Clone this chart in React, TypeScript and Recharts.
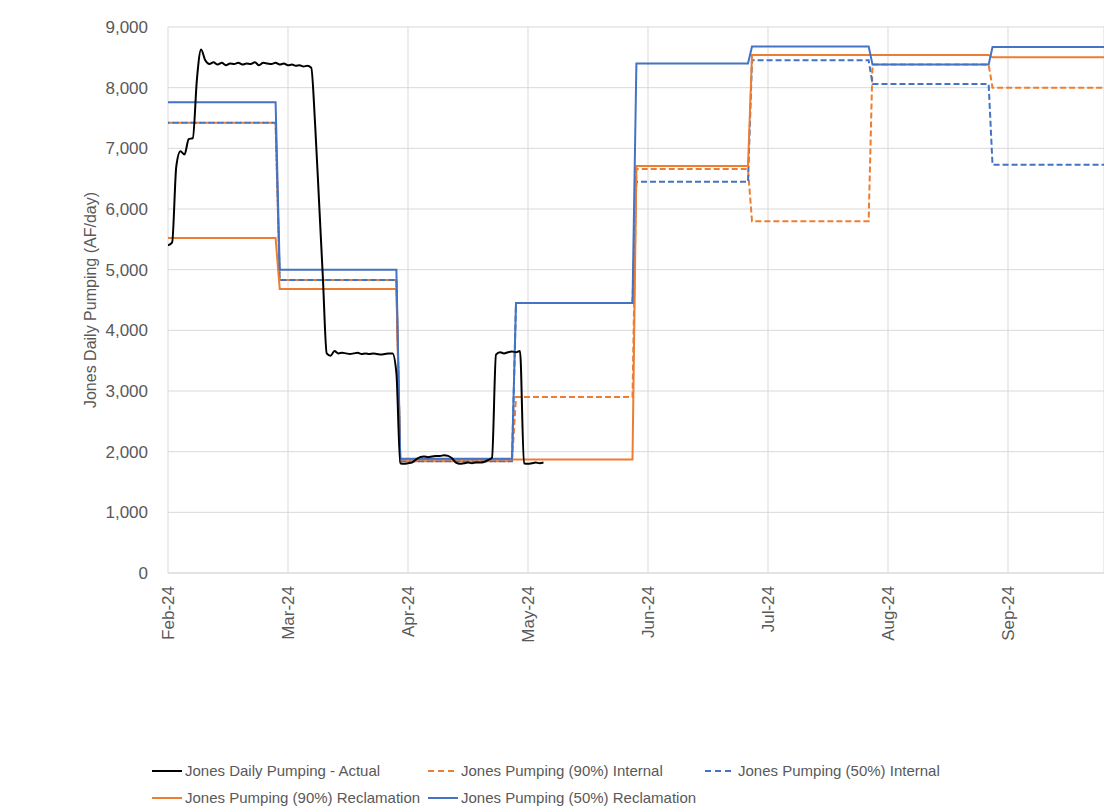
import * as React from 'react'
import { LineChart, Line, XAxis, YAxis, CartesianGrid } from 'recharts'

const MONTH_LABELS = ['Feb-24', 'Mar-24', 'Apr-24', 'May-24', 'Jun-24', 'Jul-24', 'Aug-24', 'Sep-24']
const DAYS_IN_MONTH = [29, 31, 30, 31, 30, 31, 31, 30]
const Y_TICKS = [0, 1000, 2000, 3000, 4000, 5000, 6000, 7000, 8000, 9000]

// daily actual pumping, AF/day
const actualFeb = [
  5400, 5450, 6700, 6950, 6900, 7150, 7170, 8150, 8630, 8450, 8390, 8420, 8380, 8410, 8370,
  8400, 8390, 8410, 8380, 8400, 8390, 8420, 8370, 8410, 8400, 8390, 8410, 8380, 8400,
]
const actualMar = [
  8370, 8380, 8360, 8370, 8350, 8360, 8330, 7400, 6150, 4880, 3620, 3580, 3660, 3620, 3630, 3620,
  3610, 3620, 3630, 3610, 3620, 3610, 3620, 3610, 3600, 3610, 3620, 3620, 3300, 1810, 1800,
]
const actualApr = [
  1810, 1820, 1870, 1910, 1920, 1910, 1920, 1930, 1930, 1940, 1930, 1890, 1820, 1800, 1810,
  1820, 1810, 1820, 1820, 1830, 1860, 1900, 3600, 3640, 3620, 3640, 3650, 3640, 3660, 1810,
]
const actualMay = [1800, 1810, 1820, 1810, 1820]

// projections: [date, AF/day] at each end of a step
const internal90: [string, number][] = [
  ['2024-02-01', 7420], ['2024-02-27', 7420], ['2024-02-28', 4830], ['2024-03-29', 4830],
  ['2024-03-30', 1840], ['2024-04-27', 1840], ['2024-04-28', 2900], ['2024-05-28', 2900],
  ['2024-05-29', 6660], ['2024-06-26', 6660], ['2024-06-27', 5800], ['2024-07-27', 5800],
  ['2024-07-28', 8380], ['2024-08-27', 8380], ['2024-08-28', 8000], ['2024-09-30', 8000],
]
const internal50: [string, number][] = [
  ['2024-02-01', 7420], ['2024-02-27', 7420], ['2024-02-28', 4830], ['2024-03-29', 4830],
  ['2024-03-30', 1840], ['2024-04-27', 1840], ['2024-04-28', 4450], ['2024-05-28', 4450],
  ['2024-05-29', 6450], ['2024-06-26', 6450], ['2024-06-27', 8450], ['2024-07-27', 8450],
  ['2024-07-28', 8060], ['2024-08-27', 8060], ['2024-08-28', 6730], ['2024-09-30', 6730],
]
const reclamation90: [string, number][] = [
  ['2024-02-01', 5520], ['2024-02-27', 5520], ['2024-02-28', 4680], ['2024-03-29', 4680],
  ['2024-03-30', 1870], ['2024-05-28', 1870], ['2024-05-29', 6710], ['2024-06-26', 6710],
  ['2024-06-27', 8540], ['2024-08-27', 8540], ['2024-08-28', 8500], ['2024-09-30', 8500],
]
const reclamation50: [string, number][] = [
  ['2024-02-01', 7760], ['2024-02-27', 7760], ['2024-02-28', 5000], ['2024-03-29', 5000],
  ['2024-03-30', 1885], ['2024-04-27', 1885], ['2024-04-28', 4450], ['2024-05-28', 4450],
  ['2024-05-29', 8400], ['2024-06-26', 8400], ['2024-06-27', 8680], ['2024-07-27', 8680],
  ['2024-07-28', 8380], ['2024-08-27', 8380], ['2024-08-28', 8670], ['2024-09-30', 8670],
]

const BLUE = '#4472C4'
const ORANGE = '#ED7D31'
const FONT = '"Liberation Sans", Arial, sans-serif'
const TEXT = '#595959'

// months since Feb 1, each month the same width on the axis
function toX(m: number, d: number) {
  return m + (d - 1) / DAYS_IN_MONTH[m]
}
function dateX(s: string) {
  const [, mm, dd] = s.split('-').map(Number)
  return toX(mm - 2, dd)
}

const actualData = [actualFeb, actualMar, actualApr, actualMay].flatMap((vals, m) =>
  vals.map((y, i) => ({ x: toX(m, i + 1), y })),
)
const steps = (pts: [string, number][]) => pts.map(([d, y]) => ({ x: dateX(d), y }))

function MonthTick({ x, y, payload }: any) {
  return (
    <text
      x={x}
      y={y + 5}
      transform={`rotate(-90 ${x} ${y + 5})`}
      textAnchor="end"
      dominantBaseline="central"
      fill={TEXT}
      fontSize={17}
      fontFamily={FONT}
    >
      {MONTH_LABELS[payload.value]}
    </text>
  )
}

const legendItems = [
  { name: 'Jones Daily Pumping - Actual', color: '#000', dash: false },
  { name: 'Jones Pumping (90%) Internal', color: ORANGE, dash: true },
  { name: 'Jones Pumping (50%) Internal', color: BLUE, dash: true },
  { name: 'Jones Pumping (90%) Reclamation', color: ORANGE, dash: false },
  { name: 'Jones Pumping (50%) Reclamation', color: BLUE, dash: false },
]

export default function App() {
  return (
    <div style={{ position: 'absolute', left: 0, top: 0, width: 1104, height: 808, overflow: 'hidden', background: '#fff' }}>
      <LineChart width={1104} height={808} margin={{ top: 27, right: 0, left: 0, bottom: 0 }}>
        <CartesianGrid stroke="#d9d9d9" strokeWidth={1} />
        <XAxis
          dataKey="x"
          type="number"
          domain={[0, 7.8]}
          allowDataOverflow
          ticks={[0, 1, 2, 3, 4, 5, 6, 7]}
          height={235}
          axisLine={{ stroke: '#d9d9d9' }}
          tickLine={false}
          tick={<MonthTick />}
          interval={0}
        />
        <YAxis
          type="number"
          domain={[0, 9000]}
          ticks={Y_TICKS}
          width={168}
          axisLine={false}
          tickLine={false}
          tickSize={6}
          tickMargin={14}
          tick={{ fill: TEXT, fontSize: 17, fontFamily: FONT }}
          tickFormatter={(v: number) => v.toLocaleString('en-US')}
          label={{
            value: 'Jones Daily Pumping (AF/day)',
            angle: -90,
            position: 'center',
            dx: 6,
            style: { fill: TEXT, fontSize: 16, fontFamily: FONT, textAnchor: 'middle' },
          }}
        />
        <Line data={steps(internal90)} dataKey="y" stroke={ORANGE} strokeWidth={2} strokeDasharray="6 3" dot={false} isAnimationActive={false} />
        <Line data={steps(internal50)} dataKey="y" stroke={BLUE} strokeWidth={2} strokeDasharray="6 3" strokeDashoffset={4.5} dot={false} isAnimationActive={false} />
        <Line data={steps(reclamation90)} dataKey="y" stroke={ORANGE} strokeWidth={2} dot={false} isAnimationActive={false} />
        <Line data={steps(reclamation50)} dataKey="y" stroke={BLUE} strokeWidth={2} dot={false} isAnimationActive={false} />
        <Line data={actualData} dataKey="y" type="monotone" stroke="#000" strokeWidth={2} dot={false} isAnimationActive={false} />
      </LineChart>
      <div
        style={{
          position: 'absolute',
          left: 152,
          top: 757,
          display: 'grid',
          gridTemplateColumns: '276px 277px 300px',
          fontFamily: FONT,
          fontSize: 15,
          color: TEXT,
          lineHeight: '27px',
        }}
      >
        {legendItems.map((it) => (
          <div key={it.name} style={{ display: 'flex', alignItems: 'center', whiteSpace: 'nowrap' }}>
            <svg width={31} height={4} style={{ marginRight: 2 }}>
              <line x1={0} y1={2} x2={30} y2={2} stroke={it.color} strokeWidth={2} strokeDasharray={it.dash ? '6 4' : undefined} />
            </svg>
            <span>{it.name}</span>
          </div>
        ))}
      </div>
    </div>
  )
}
